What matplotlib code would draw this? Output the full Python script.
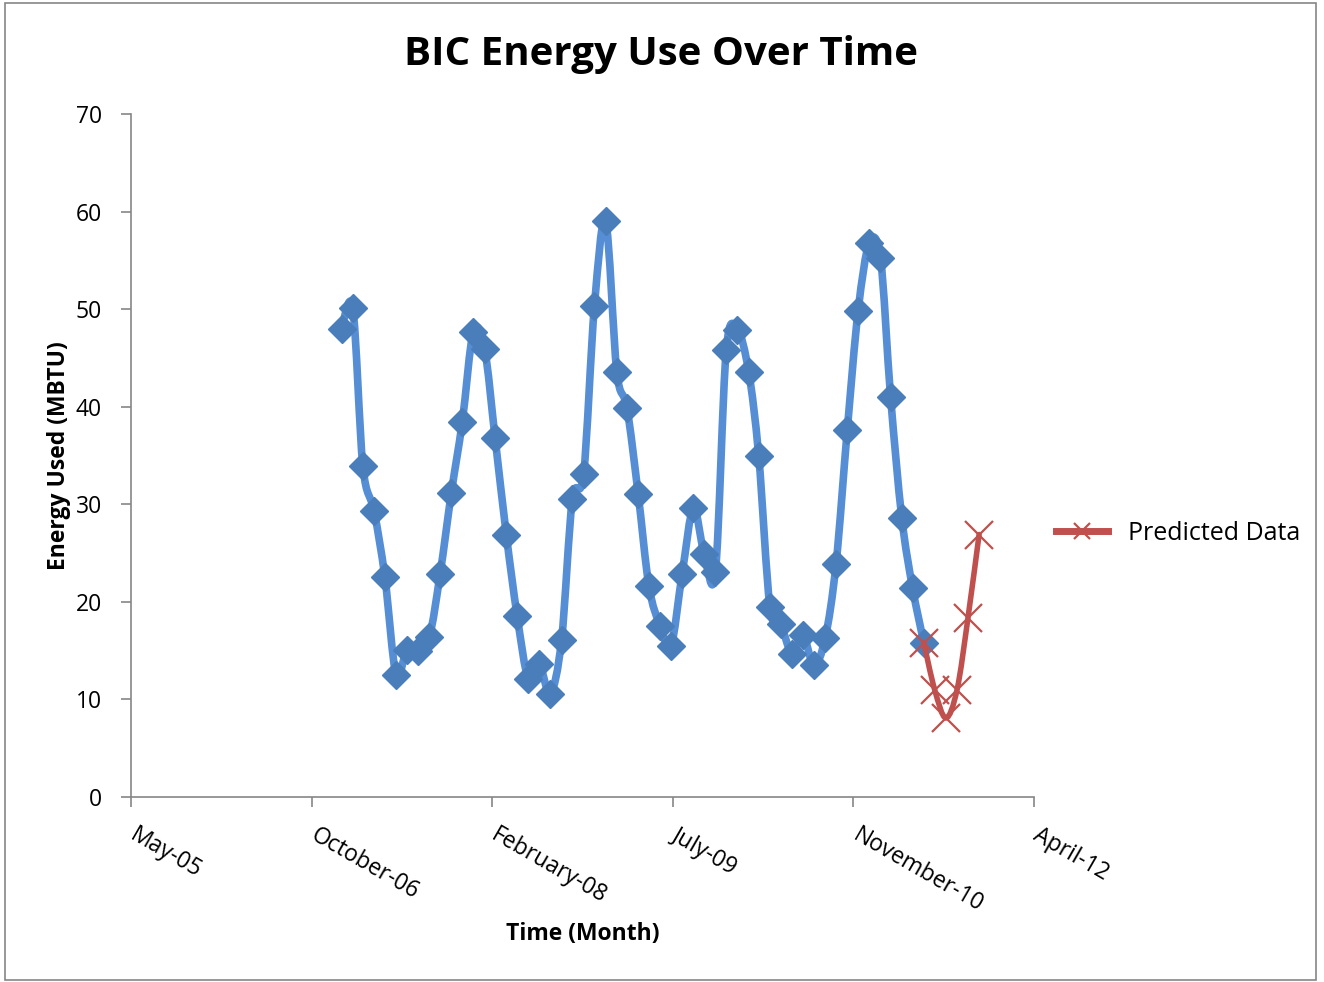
# BIC energy use over time - monthly measured data plus predicted months
import datetime as dt
import numpy as np
import matplotlib
matplotlib.use('Agg')
import matplotlib.pyplot as plt
import matplotlib.dates as mdates
import matplotlib.transforms as mtransforms
from matplotlib.path import Path
from matplotlib.patches import PathPatch, Rectangle
from matplotlib.lines import Line2D

# measured monthly energy use (MBTU), Jan 2007 - Jun 2011
start_year, start_month = 2007, 1
energy = [48.0, 50.1, 33.9, 29.3, 22.5, 12.5, 15.1, 15.0, 16.4, 22.9, 31.2, 38.4,
          47.7, 45.9, 36.8, 26.9, 18.6, 12.1, 13.6, 10.6, 16.1, 30.5, 33.1, 50.3,
          59.0, 43.6, 39.9, 31.1, 21.6, 17.5, 15.5, 22.9, 29.6, 24.9, 23.1, 45.8,
          47.9, 43.6, 34.9, 19.5, 17.7, 14.7, 16.6, 13.5, 16.3, 23.9, 37.6, 49.8,
          56.8, 55.2, 41.0, 28.6, 21.4, 15.8]

# predicted, Jun 2011 - Nov 2011
pred_year, pred_month = 2011, 6
predicted = [15.8, 11.0, 8.1, 11.0, 18.3, 26.9]

# axis ticks (excel date axis, 500 day steps)
tick_dates = [dt.date(2005, 5, 28), dt.date(2006, 10, 10), dt.date(2008, 2, 22),
              dt.date(2009, 7, 6), dt.date(2010, 11, 18), dt.date(2012, 4, 1)]
tick_labels = ['May-05', 'October-06', 'February-08', 'July-09', 'November-10', 'April-12']


def month_list(y, m, n):
    out = []
    for i in range(n):
        mm = m - 1 + i
        out.append(dt.date(y + mm // 12, mm % 12 + 1, 1))
    return out


def smooth_path(x, y):
    # excel style smoothed line: cubic bezier through every point
    x = np.asarray(x, float)
    y = np.asarray(y, float)
    verts = [(x[0], y[0])]
    codes = [Path.MOVETO]
    n = len(x)
    for i in range(n - 1):
        x0, y0 = (x[i - 1], y[i - 1]) if i > 0 else (x[i], y[i])
        x3, y3 = (x[i + 2], y[i + 2]) if i + 2 < n else (x[i + 1], y[i + 1])
        c1 = (x[i] + (x[i + 1] - x0) / 6.0, y[i] + (y[i + 1] - y0) / 6.0)
        c2 = (x[i + 1] - (x3 - x[i]) / 6.0, y[i + 1] - (y3 - y[i]) / 6.0)
        verts += [c1, c2, (x[i + 1], y[i + 1])]
        codes += [Path.CURVE4] * 3
    return Path(verts, codes)


plt.rcParams['font.family'] = ['Open Sans', 'DejaVu Sans']

xs = mdates.date2num(month_list(start_year, start_month, len(energy)))
xp = mdates.date2num(month_list(pred_year, pred_month, len(predicted)))

fig = plt.figure(figsize=(13.24, 9.82), dpi=100)
ax1 = fig.add_axes([131/1324, 185/982, 903/1324, 683/982])

blue_line = '#558ed5'
blue_mark = '#4a7ebb'
red = '#c0504d'

ax1.add_patch(PathPatch(smooth_path(xs, energy), facecolor='none', edgecolor=blue_line,
                        lw=5.5, capstyle='round', joinstyle='round', zorder=2))
ax1.plot(xs, energy, ls='none', marker='D', ms=14, color=blue_mark, zorder=3)

ax1.add_patch(PathPatch(smooth_path(xp, predicted), facecolor='none', edgecolor=red,
                        lw=4, capstyle='round', zorder=4))
ax1.plot(xp, predicted, ls='none', marker='x', ms=20, mew=1.6, color=red, zorder=5)

ticks = mdates.date2num(tick_dates)
ax1.set_xlim(ticks[0], ticks[-1])
ax1.set_ylim(0, 70)
ax1.set_yticks(np.arange(0, 71, 10))
ax1.set_xticks(ticks)
ax1.set_xticklabels(tick_labels, rotation=-30, ha='left', va='top', rotation_mode='anchor')

for s in ['top', 'right']:
    ax1.spines[s].set_visible(False)
for s in ['left', 'bottom']:
    ax1.spines[s].set_color('#868686')
    ax1.spines[s].set_linewidth(1.2)
ax1.tick_params(direction='out', length=7, width=1.2, color='#868686', labelsize=16.5, pad=14)
ax1.tick_params(axis='x', pad=12)
# excel puts the rotated labels a little right of the tick
shift = mtransforms.ScaledTranslation(7/100, 0, fig.dpi_scale_trans)
for lab in ax1.get_xticklabels():
    lab.set_transform(lab.get_transform() + shift)

ax1.set_ylabel('Energy Used (MBTU)', fontsize=16.5, fontweight='bold', labelpad=3)
fig.text(583/1324, 1 - 934/982, 'Time (Month)', fontsize=16.5, fontweight='bold',
         ha='center', va='center')
fig.text(661/1324, 1 - 54/982, 'BIC Energy Use Over Time', fontsize=29, fontweight='bold',
         ha='center', va='center')

handle = Line2D([], [], color=red, lw=5, marker='x', ms=12, mew=1.6)
fig.legend([handle], ['Predicted Data'], loc='center left', bbox_to_anchor=(1033/1324, 1 - 533/982),
           frameon=False, fontsize=18, handlelength=2.1, handletextpad=0.8)

fig.patches.append(Rectangle((5/1324, 2/982), 1311/1324, 977/982, transform=fig.transFigure,
                             fill=False, edgecolor='#868686', lw=1.2))

plt.savefig('out.png', dpi=100)
